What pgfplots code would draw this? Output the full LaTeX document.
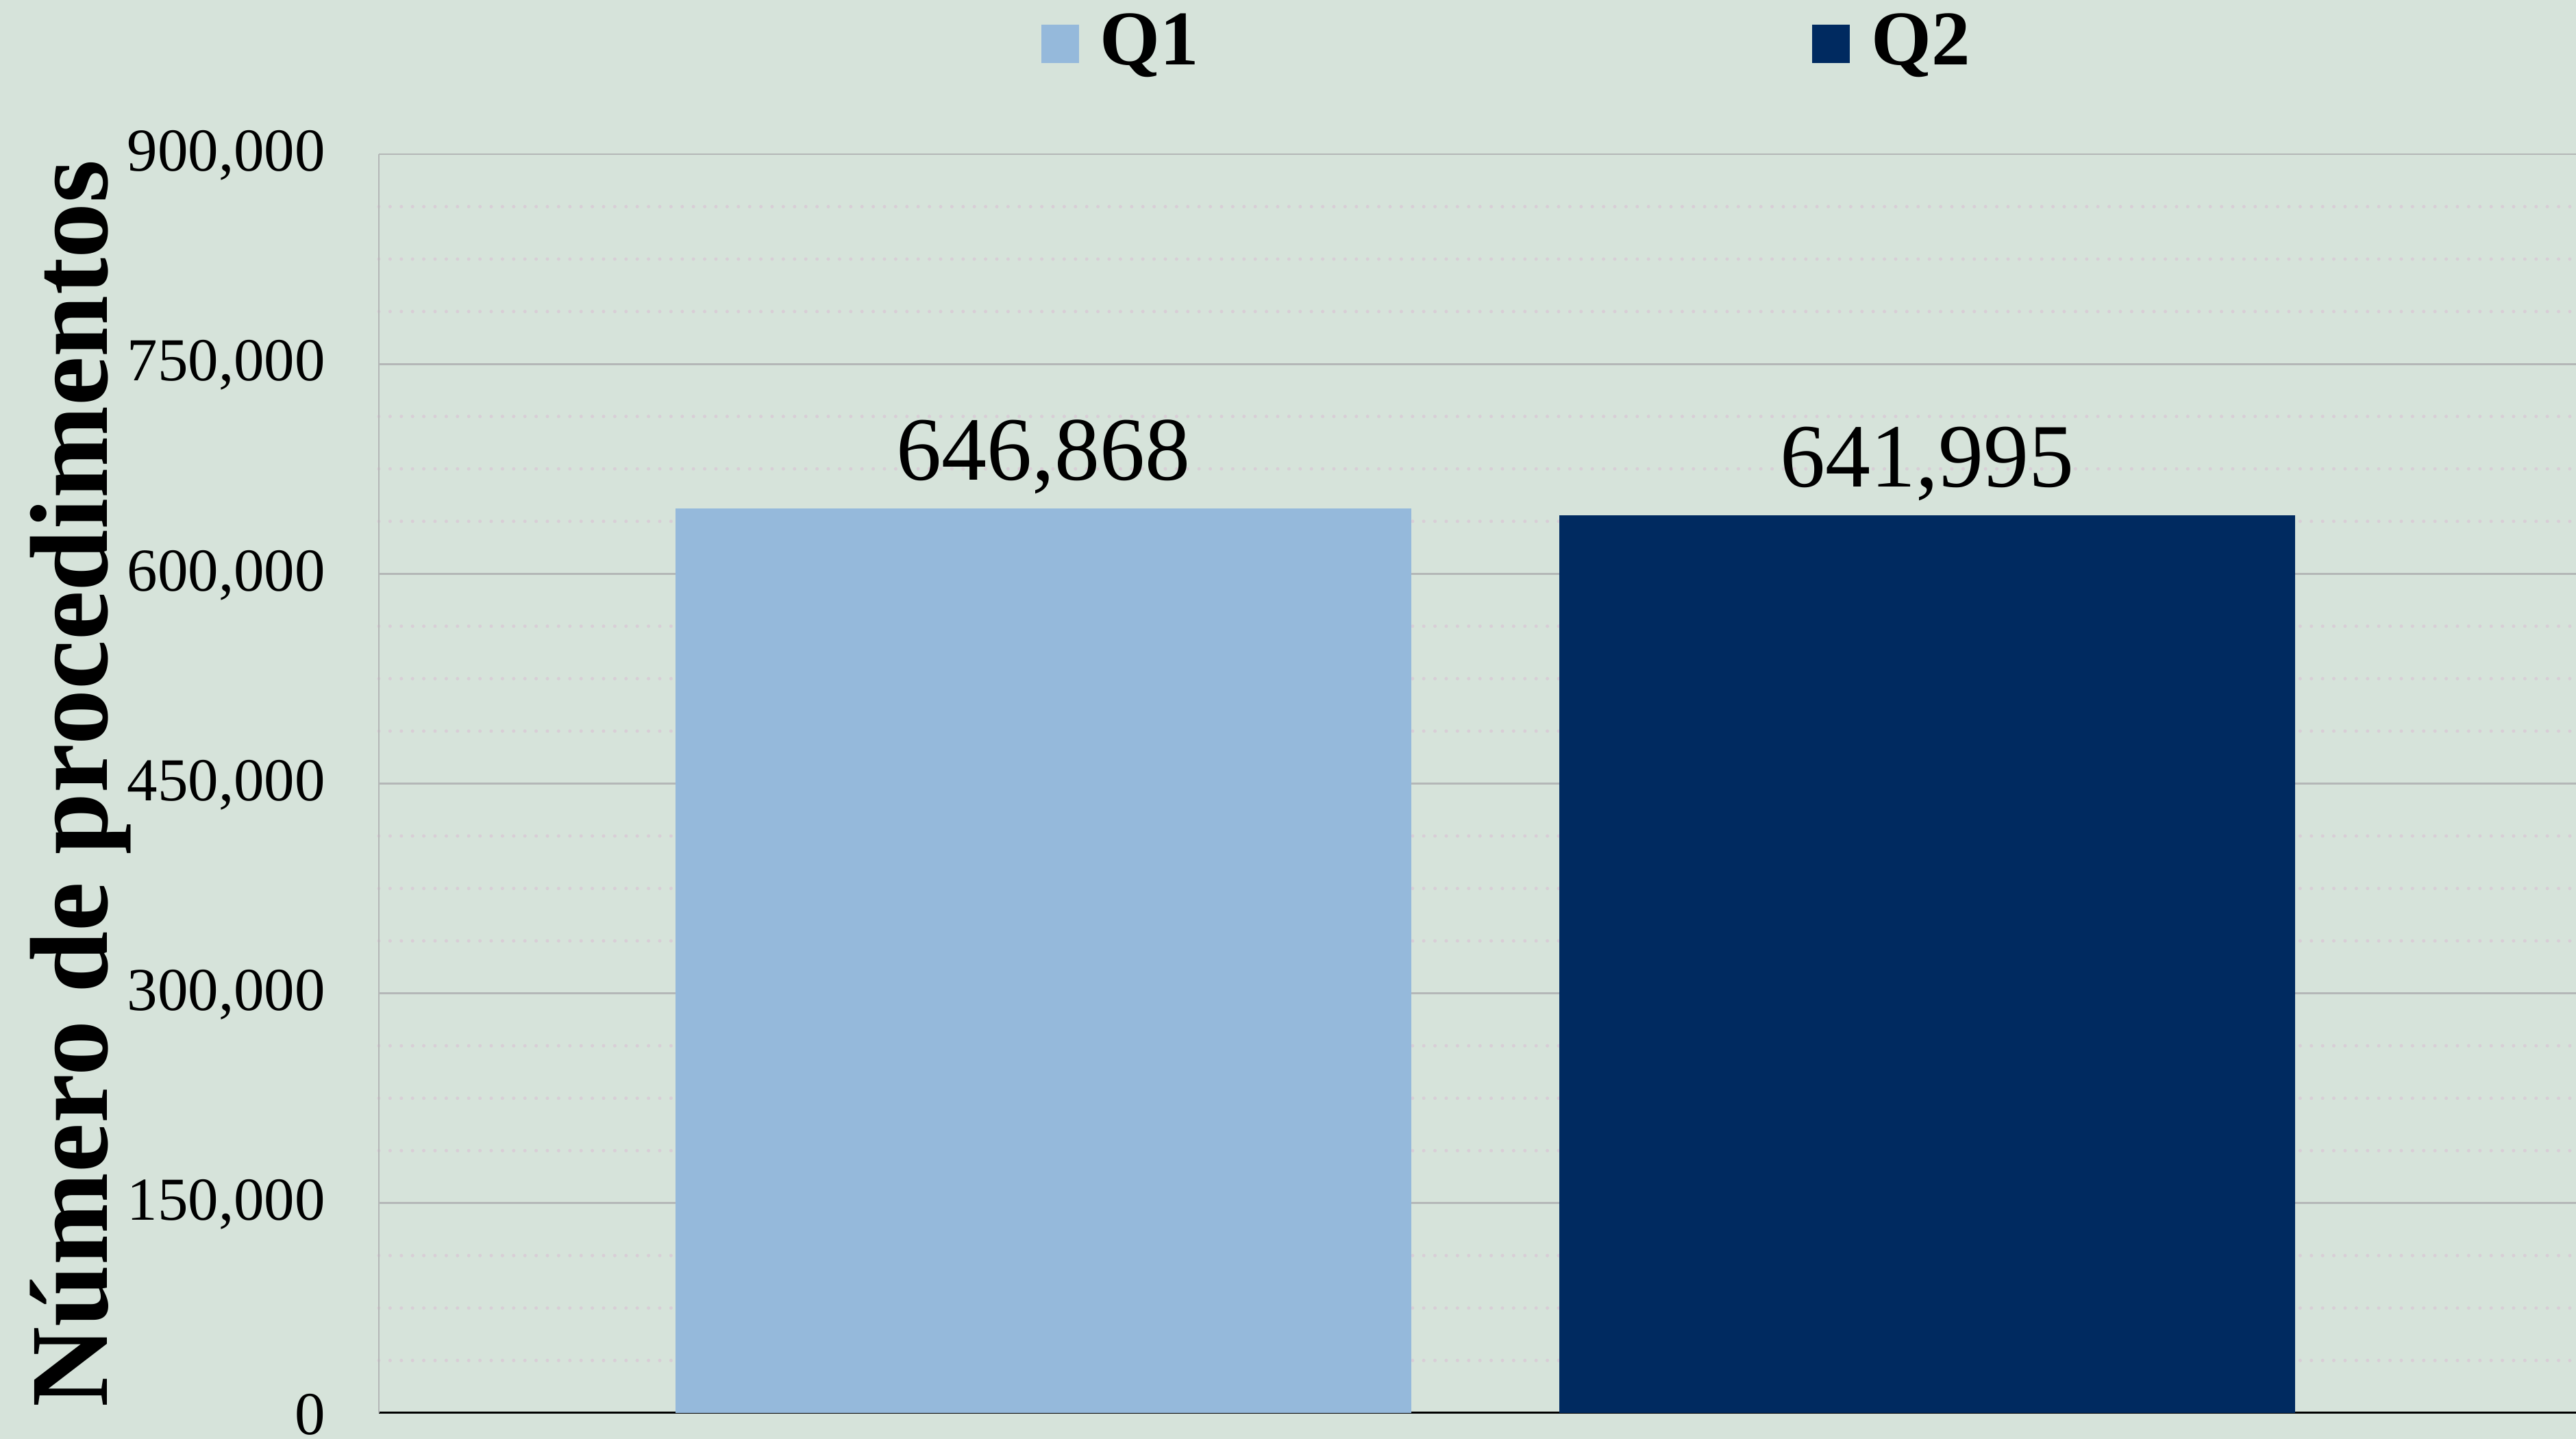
\documentclass[border=0pt]{standalone}
\usepackage{pgfplots}
\pgfplotsset{compat=1.18}
\usepackage{fontspec}
\setmainfont{Liberation Serif}
\usetikzlibrary{backgrounds}

\definecolor{bgc}{RGB}{214,227,218}
\definecolor{q1}{RGB}{149,185,219}
\definecolor{q2}{RGB}{0,42,96}
\definecolor{gridmaj}{RGB}{180,183,183}
\definecolor{gridmin}{RGB}{216,206,214}

\pgfplotsset{sqleg/.style={legend image code/.code={\fill[##1] (0pt,-2.8pt) rectangle (5.5pt,2.8pt);}}}

\begin{document}
\begin{tikzpicture}
\begin{axis}[
  name=ax,
  ybar,
  scale only axis,
  width=320.7pt, height=183.7pt,
  xmin=-0.752, xmax=1.734,
  ymin=0, ymax=900000,
  bar width=0.8326,
  xtick=\empty,
  ytick={0,150000,...,900000},
  minor y tick num=3,
  ymajorgrids, yminorgrids,
  major grid style={draw=gridmaj, line width=0.27pt},
  minor grid style={draw=gridmin, line width=0.5pt, line cap=round, dash pattern=on 0pt off 1.64pt},
  major tick length=0pt, minor tick length=0pt,
  axis x line*=bottom, axis y line*=left,
  x axis line style={black, line width=0.3pt},
  y axis line style={gridmaj, line width=0.27pt},
  scaled y ticks=false,
  /pgf/number format/.cd, fixed, 1000 sep={,}, assume math mode=true, /pgfplots/.cd,
  yticklabel style={font=\fontsize{8.9}{10}\selectfont, inner xsep=0pt, xshift=-7.6pt, yshift=-0.2pt},
  nodes near coords,
  nodes near coords style={font=\fontsize{13.2}{15}\selectfont, black, inner ysep=0pt, text depth=0pt, yshift=3.9pt},
  ylabel={\fontsize{16.2}{18}\selectfont\bfseries Número de procedimentos},
  every axis y label/.style={at={(axis description cs:-0.1235,0.5)}, rotate=90, anchor=base},
  legend columns=2,
  legend style={at={(axis description cs:0.3015,1.0876)}, anchor=west, draw=none, fill=none,
    inner sep=0pt, outer sep=0pt, nodes={inner sep=0pt},
    font=\fontsize{11.3}{13}\selectfont\bfseries,
    /tikz/every odd column/.append style={column sep=3.1pt},
    /tikz/every even column/.append style={column sep=89.5pt}},
]
\addplot[fill=q1, draw=none, bar shift=0pt, sqleg] coordinates {(0,646868)};
\addlegendentry{Q1}
\addplot[fill=q2, draw=none, bar shift=0pt, sqleg] coordinates {(1,641995)};
\addlegendentry{Q2}
\end{axis}
\pgfresetboundingbox
\path[use as bounding box] ([xshift=-55.3pt,yshift=-3.8pt]ax.south west) rectangle ([yshift=22.5pt]ax.north east);
\begin{scope}[on background layer]
\fill[bgc] ([xshift=-55.3pt,yshift=-3.8pt]ax.south west) rectangle ([yshift=22.5pt]ax.north east);
\end{scope}
\end{tikzpicture}
\end{document}
